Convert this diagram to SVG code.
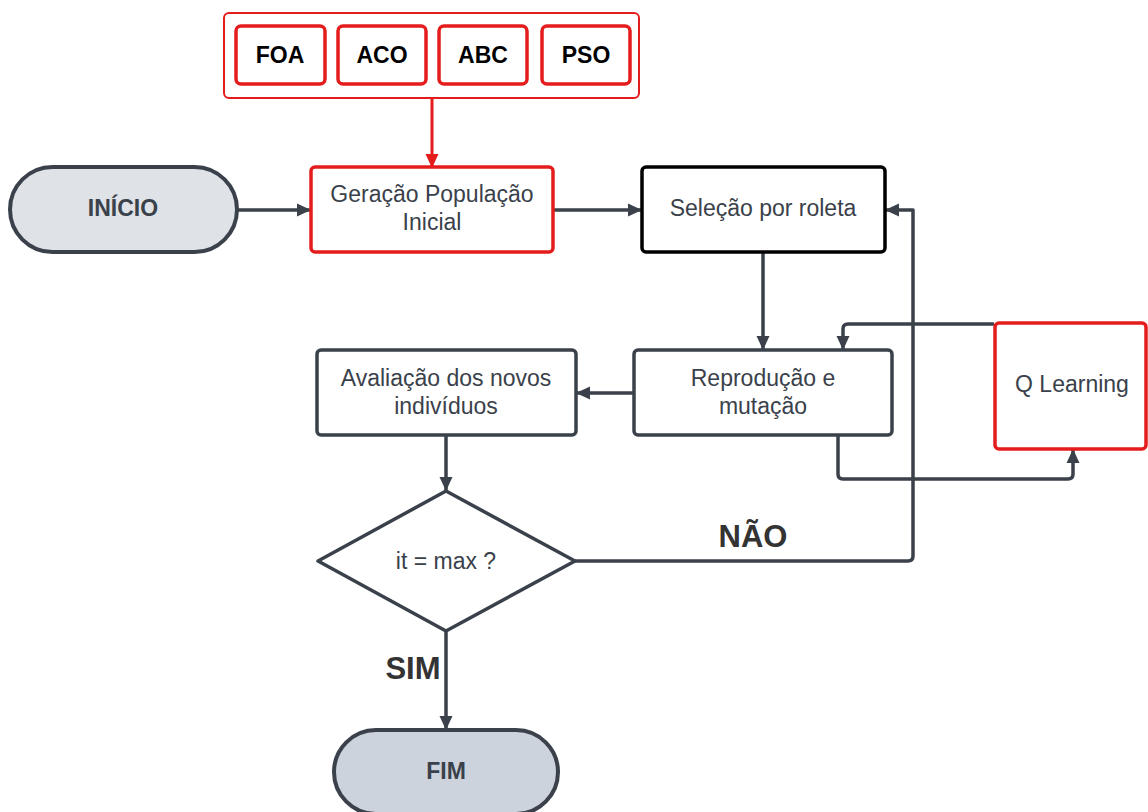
<svg xmlns="http://www.w3.org/2000/svg" width="1148" height="812" viewBox="0 0 1148 812">
<style>
.t{font-family:"Liberation Sans",Arial,sans-serif;font-size:23px;fill:#3a414a;text-anchor:middle;dominant-baseline:central}
.b{font-weight:bold}
.alg{font-family:"Liberation Sans",Arial,sans-serif;font-size:23px;font-weight:bold;fill:#000;text-anchor:middle;dominant-baseline:central}
.box{fill:#fff;stroke:#3a414a;stroke-width:3.5}
.red{fill:#fff;stroke:#e51c1c;stroke-width:3.5}
.c{fill:none;stroke:#3a414a;stroke-width:3.5;stroke-linejoin:round}
.lbl{font-family:"Liberation Sans",Arial,sans-serif;font-size:31px;font-weight:bold;fill:#333;text-anchor:middle;dominant-baseline:central}
</style>
<defs>
<marker id="a" markerWidth="14" markerHeight="14" refX="13" refY="7" orient="auto" markerUnits="userSpaceOnUse"><path d="M0,0.5 L14,7 L0,13.5 Z" fill="#3a414a"/></marker>
<marker id="ar" markerWidth="14" markerHeight="14" refX="13" refY="7" orient="auto" markerUnits="userSpaceOnUse"><path d="M0,0.5 L14,7 L0,13.5 Z" fill="#e51c1c"/></marker>
</defs>
<rect width="1148" height="812" fill="#fff"/>
<g id="algorithms">
<rect x="224" y="13" width="415" height="85" rx="5" fill="#fff" stroke="#e51c1c" stroke-width="2"/>
<g id="foa"><rect x="236" y="26" width="89" height="58" rx="5" class="red"/><text x="280" y="55" class="alg">FOA</text></g>
<g id="aco"><rect x="338" y="26" width="88" height="58" rx="5" class="red"/><text x="382" y="55" class="alg">ACO</text></g>
<g id="abc"><rect x="439" y="26" width="88" height="58" rx="5" class="red"/><text x="483" y="55" class="alg">ABC</text></g>
<g id="pso"><rect x="542" y="26" width="88" height="58" rx="5" class="red"/><text x="586" y="55" class="alg">PSO</text></g>
</g>
<g id="connectors">
<path d="M432,98 V167" fill="none" stroke="#e51c1c" stroke-width="3" marker-end="url(#ar)"/>
<path d="M237,210 H310" class="c" marker-end="url(#a)"/>
<path d="M553,210 H641" class="c" marker-end="url(#a)"/>
<path d="M763,252 V349" class="c" marker-end="url(#a)"/>
<path d="M634,393 H577" class="c" marker-end="url(#a)"/>
<path d="M994,324 H848 Q843,324 843,329 V349" class="c" marker-end="url(#a)"/>
<path d="M838,435 V474 Q838,479 843,479 H1068 Q1073,479 1073,474 V450" class="c" marker-end="url(#a)"/>
<path d="M446,435 V490" class="c" marker-end="url(#a)"/>
<path d="M575,561 H908 Q913,561 913,556 V210 H886" class="c" marker-end="url(#a)"/>
<path d="M446,631 V729" class="c" marker-end="url(#a)"/>
</g>
<g id="inicio"><rect x="10" y="167" width="227" height="85" rx="42.5" fill="#dfe2e7" stroke="#3a414a" stroke-width="4"/><text x="123" y="208" class="t b">INÍCIO</text></g>
<g id="geracao"><rect x="311" y="167" width="242" height="85" rx="4" class="red"/><text x="432" y="194" class="t">Geração População</text><text x="432" y="222" class="t">Inicial</text></g>
<g id="selecao"><rect x="642" y="167" width="243" height="85" rx="4" fill="#fff" stroke="#000" stroke-width="3.5"/><text x="763" y="208" class="t">Seleção por roleta</text></g>
<g id="reproducao"><rect x="634" y="350" width="258" height="85" rx="4" class="box"/><text x="763" y="378" class="t">Reprodução e</text><text x="763" y="406" class="t">mutação</text></g>
<g id="avaliacao"><rect x="317" y="350" width="259" height="85" rx="4" class="box"/><text x="446" y="378" class="t">Avaliação dos novos</text><text x="446" y="406" class="t">indivíduos</text></g>
<g id="qlearning"><rect x="995" y="323" width="151" height="126" rx="4" class="red"/><text x="1072" y="384" class="t">Q Learning</text></g>
<g id="decisao"><path d="M446,491 L575,561 L446,631 L318,561 Z" fill="#fff" stroke="#3a414a" stroke-width="3.5" stroke-linejoin="round"/><text x="446" y="561" class="t">it = max ?</text></g>
<g id="fim"><rect x="334" y="730" width="224" height="84" rx="42" fill="#cdd3dd" stroke="#3a414a" stroke-width="4"/><text x="446" y="771" class="t b">FIM</text></g>
<text x="753" y="536" class="lbl">NÃO</text>
<text x="413" y="668" class="lbl">SIM</text>
</svg>
